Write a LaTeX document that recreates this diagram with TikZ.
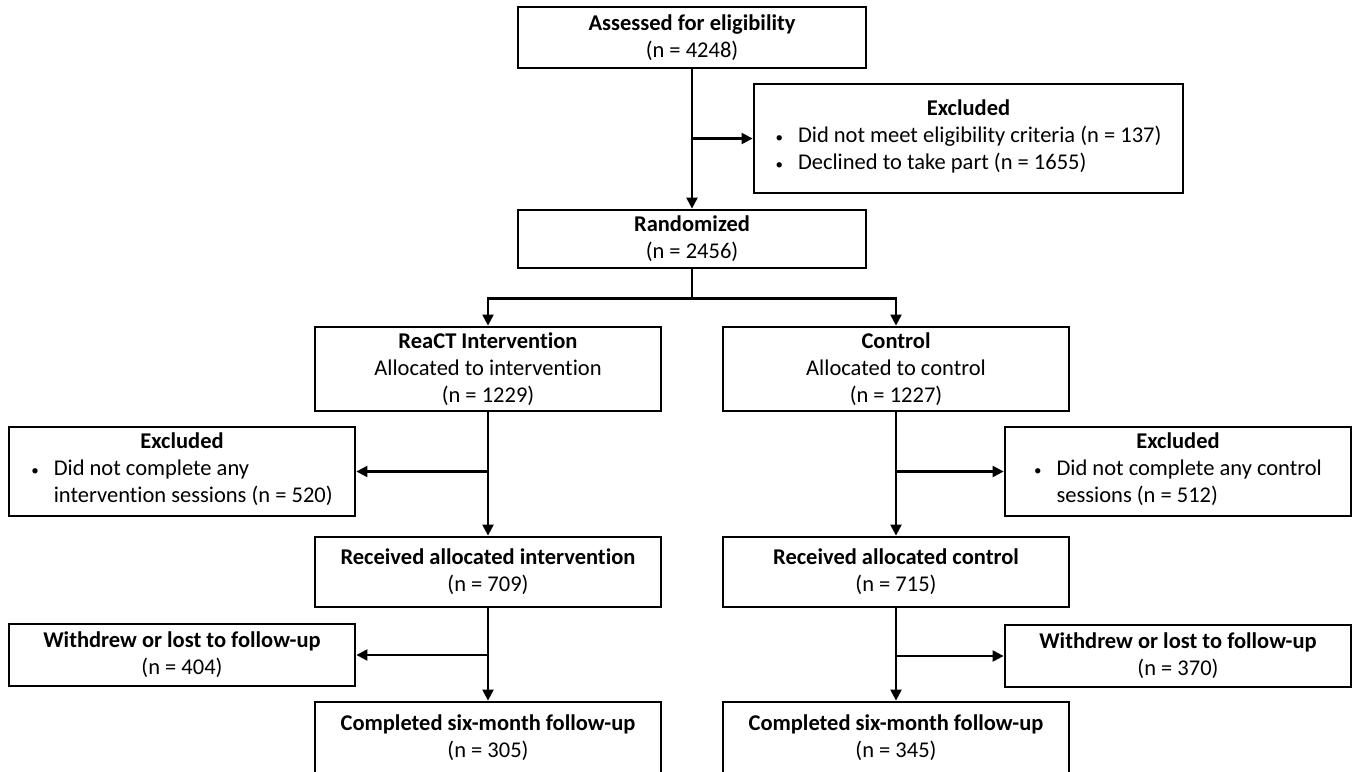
\documentclass[tikz,border=0pt]{standalone}
\usepackage{fontspec}
\setmainfont{Carlito}[Ligatures=CommonOff]
\usetikzlibrary{arrows.meta}
\newcommand{\smbul}{{\fontsize{15}{15}\selectfont\textbullet}}
\begin{document}
\begin{tikzpicture}[x=1pt,y=-1pt,
  box/.style={draw, line width=2.8pt, inner sep=0pt, align=center,
    font=\fontsize{22.5}{27}\selectfont},
  arr/.style={line width=2.2pt, -{Triangle[length=11pt,width=11pt]}},
  ln/.style={line width=2.2pt}]
\useasboundingbox (0,0) rectangle (1357,771);
\clip (0,0) rectangle (1357,771);
% top
\node[box, minimum width=348pt, minimum height=61pt] (assess) at (692,37.5)
  {\textbf{Assessed for eligibility}\\(n = 4248)};
\node[box, minimum width=429pt, minimum height=109pt] (excl1) at (968.5,138.5)
  {\textbf{Excluded}\\
   \begin{tabular}[t]{@{}l@{\hspace{15pt}}l@{}}
   \smbul & Did not meet eligibility criteria (n = 137)\\
   \smbul & Declined to take part (n = 1655)
   \end{tabular}};
\node[box, minimum width=348pt, minimum height=58pt] (rand) at (692,239)
  {\textbf{Randomized}\\(n = 2456)};
% arms
\node[box, minimum width=346pt, minimum height=84pt] (react) at (488,369)
  {\textbf{ReaCT Intervention}\\Allocated to intervention\\(n = 1229)};
\node[box, minimum width=346pt, minimum height=84pt] (control) at (896,369)
  {\textbf{Control}\\Allocated to control\\(n = 1227)};
% exclusions
\node[box, minimum width=346pt, minimum height=89pt] (exclL) at (182,471.5)
  {\textbf{Excluded}\\
   \begin{tabular}[t]{@{}l@{\hspace{15pt}}l@{}}
   \smbul & Did not complete any\\
   & intervention sessions (n = 520)
   \end{tabular}};
\node[box, minimum width=346pt, minimum height=89pt] (exclR) at (1178,471.5)
  {\textbf{Excluded}\\
   \begin{tabular}[t]{@{}l@{\hspace{15pt}}l@{}}
   \smbul & Did not complete any control\\
   & sessions (n = 512)
   \end{tabular}};
% received
\node[box, minimum width=346pt, minimum height=70pt] (recI) at (488,572)
  {\textbf{Received allocated intervention}\\(n = 709)};
\node[box, minimum width=346pt, minimum height=70pt] (recC) at (896,572)
  {\textbf{Received allocated control}\\(n = 715)};
% withdrew
\node[box, minimum width=346pt, minimum height=62pt] (withL) at (182,655)
  {\textbf{Withdrew or lost to follow-up}\\(n = 404)};
\node[box, minimum width=346pt, minimum height=62pt] (withR) at (1178,656)
  {\textbf{Withdrew or lost to follow-up}\\(n = 370)};
% completed
\node[box, minimum width=346pt, minimum height=72pt] (compI) at (488,738)
  {\textbf{Completed six-month follow-up}\\(n = 305)};
\node[box, minimum width=346pt, minimum height=72pt] (compC) at (896,738)
  {\textbf{Completed six-month follow-up}\\(n = 345)};
% connectors
\draw[arr] (assess.south) -- (rand.north);
\draw[arr] (assess.south |- excl1.west) -- (excl1.west);
\draw[ln] (rand.south) -- ++(0,29) coordinate (split);
\draw[arr] (split) -| (react.north);
\draw[arr] (split) -| (control.north);
\draw[arr] (react.south) -- (recI.north);
\draw[arr] (react.south |- exclL.east) -- (exclL.east);
\draw[arr] (control.south) -- (recC.north);
\draw[arr] (control.south |- exclR.west) -- (exclR.west);
\draw[arr] (recI.south) -- (compI.north);
\draw[arr] (recI.south |- withL.east) -- (withL.east);
\draw[arr] (recC.south) -- (compC.north);
\draw[arr] (recC.south |- withR.west) -- (withR.west);
\end{tikzpicture}
\end{document}
